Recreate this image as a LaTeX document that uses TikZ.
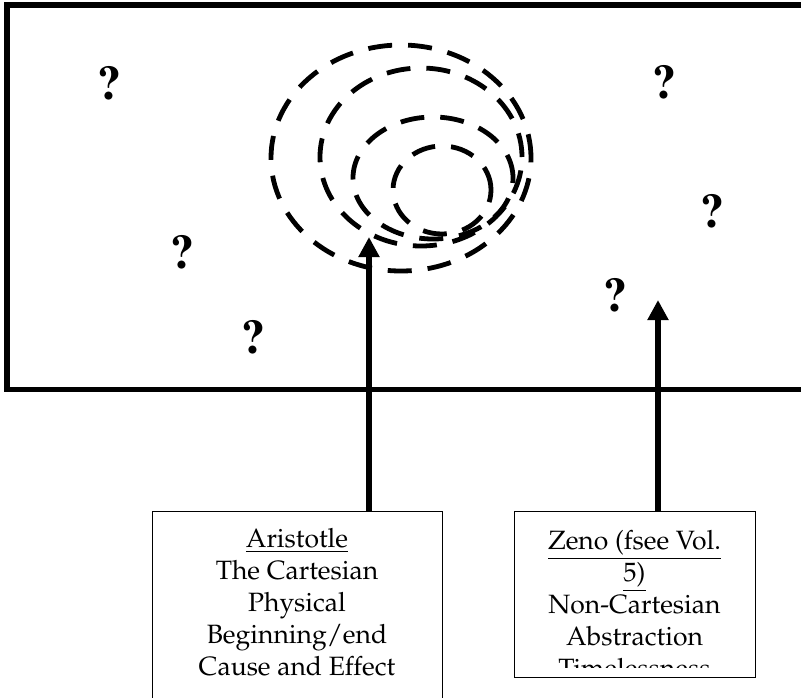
\documentclass[tikz,border=0pt]{standalone}
\usepackage[T1]{fontenc}
\usepackage{mathpazo}
\usetikzlibrary{arrows.meta,positioning}

\begin{document}
\begin{tikzpicture}[x=1pt,y=-1pt,>={Triangle[width=20pt,length=20pt]},every node/.style={inner sep=0pt}]
		\tikzstyle{frame}=[draw, line width=1.3pt]
		\tikzstyle{boxtext}=[align=center, font=\fontsize{26.5}{32}\selectfont]
		\tikzstyle{query}=[font=\fontfamily{ptm}\fontseries{b}\fontsize{48}{48}\selectfont]
		\tikzstyle{ring}=[line width=4.8pt, dash pattern=on 24pt off 16pt]
		\tikzstyle{pointer}=[->, line width=6pt]

		\clip (0,0) rectangle (801,697);
		% field
		\draw[line width=5.5pt] (808,5) -- (7,5) -- (7,389.5) -- (808,389.5);

		% rings
		\draw[ring] (401,158) ellipse [x radius=130pt, y radius=113pt];
		\draw[ring] (421,157) ellipse [x radius=101pt, y radius=89pt];
		\draw[ring] (433,178) ellipse [x radius=80pt, y radius=61pt];
		\draw[ring] (442,190) ellipse [x radius=49pt, y radius=44pt];

		\node [query] (q1) at (109,83.5) {?};
		\node [query] (q2) at (664,82) {?};
		\node [query] (q3) at (712.5,211.5) {?};
		\node [query] (q4) at (182,252) {?};
		\node [query] (q5) at (615.5,295.5) {?};
		\node [query] (q6) at (253.5,337) {?};

		% boxes
		\node [frame, minimum width=290pt, minimum height=230pt, anchor=north west] (aristotle) at (152,511) {};
		\node [boxtext, anchor=base] (aristotletext) at (297,675)
			{\underline{Aristotle}\\The Cartesian\\Physical\\Beginning/end\\Cause and Effect};
		\node [frame, minimum width=241pt, minimum height=166pt, anchor=north west] (zeno) at (514,511) {};
		\begin{scope}
			\clip (514,511) rectangle (755,667);
			\node [boxtext, anchor=base] (zenotext) at (634.5,677)
				{\underline{Zeno (fsee Vol.}\\\underline{5)}\\Non-Cartesian\\Abstraction\\Timelessness};
		\end{scope}

		\coordinate (aristotletip) at (369,237);
		\coordinate (zenotip) at (658,300);
		\draw [pointer] (aristotle.north -| aristotletip) -- (aristotletip);
		\draw [pointer] (zeno.north -| zenotip) -- (zenotip);
	\end{tikzpicture}
\end{document}
